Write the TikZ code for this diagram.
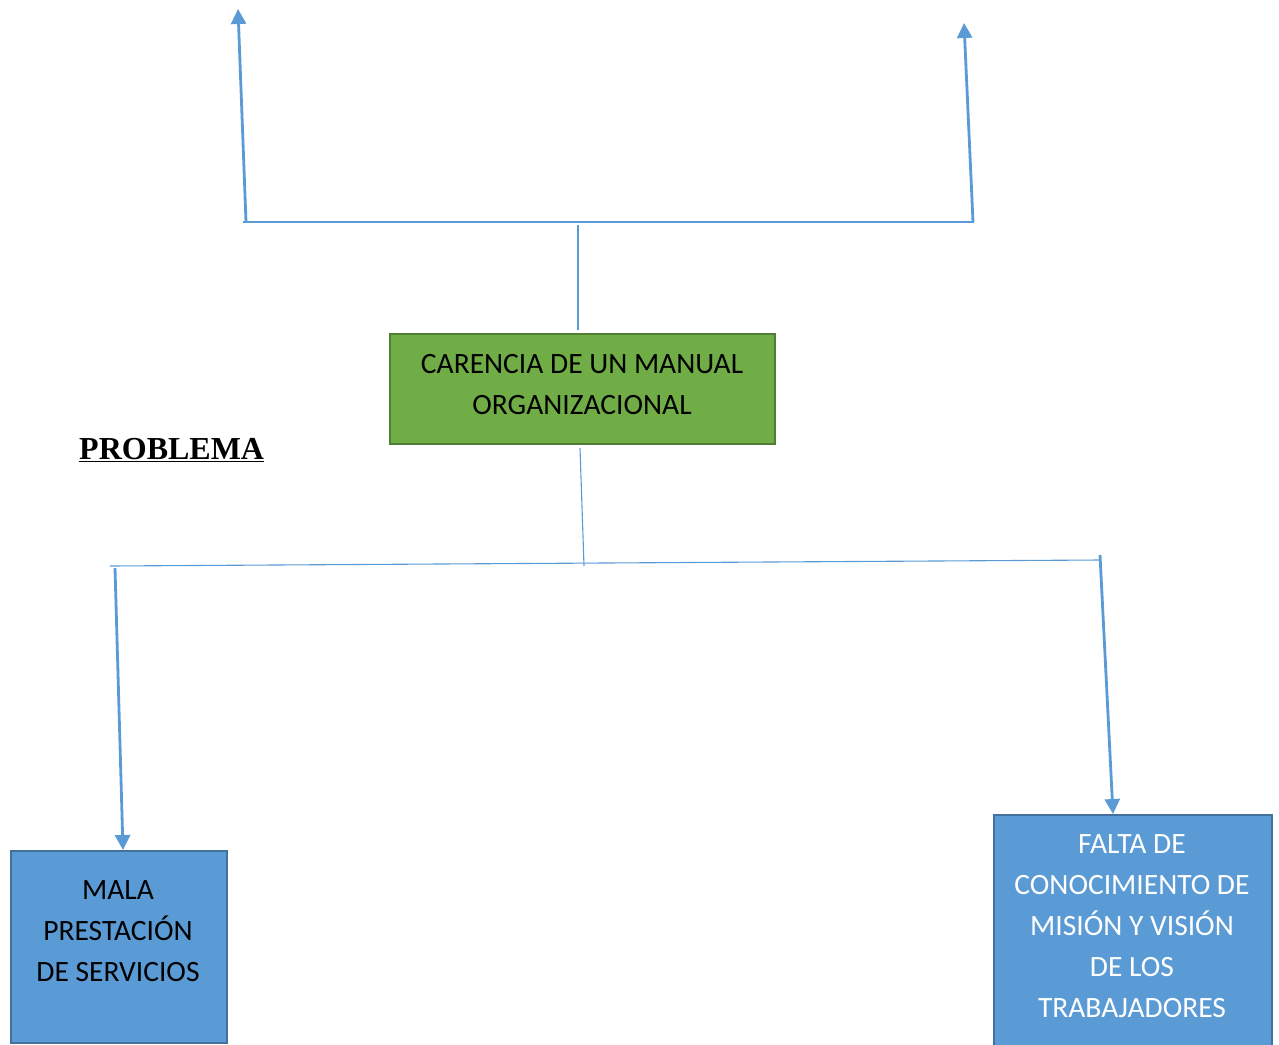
\documentclass[tikz,border=0pt]{standalone}
\usepackage{fontspec}
\setmainfont{Carlito}
\newfontfamily\timesfont{Liberation Serif}
\usetikzlibrary{arrows.meta}
\definecolor{lineblue}{HTML}{5B9BD5}
\definecolor{boxblue}{HTML}{5B9BD5}
\definecolor{boxblueedge}{HTML}{41719C}
\definecolor{boxgreen}{HTML}{70AD47}
\definecolor{boxgreenedge}{HTML}{507E32}
\tikzset{
  thinline/.style={draw=lineblue, line width=1.1pt},
  arrline/.style={draw=lineblue, line width=2.8pt, -{Triangle[width=15pt,length=15pt]}},
  greenbox/.style={draw=boxgreenedge, fill=boxgreen, line width=2.2pt, anchor=north west, inner sep=0pt},
  bluebox/.style={draw=boxblueedge, fill=boxblue, line width=2.2pt, anchor=north west, inner sep=0pt},
  boxtext/.style={align=center, inner sep=0pt, font=\fontsize{29.5}{41}\selectfont},
}
\begin{document}
\begin{tikzpicture}[x=1pt,y=-1pt]
\useasboundingbox (0,0) rectangle (1279,1044);
\clip (0,0) rectangle (1279,1044);
% boxes
\node[greenbox, minimum width=385pt, minimum height=110pt] (main) at (389,333) {};
\node[boxtext, text=black] (maintext) at (582,385) {CARENCIA DE UN MANUAL\\ORGANIZACIONAL};
\node[bluebox, minimum width=216pt, minimum height=192pt] (left) at (10,850) {};
\node[boxtext, text=black] (lefttext) at (118,931) {MALA\\PRESTACIÓN\\DE SERVICIOS};
\node[bluebox, minimum width=278pt, minimum height=260pt] (right) at (993,814) {};
\node[boxtext, text=white] (righttext) at (1132,926) {FALTA DE\\CONOCIMIENTO DE\\MISIÓN Y VISIÓN\\DE LOS\\TRABAJADORES};
% title
\node[anchor=base west, inner sep=0pt, font=\timesfont\bfseries\fontsize{32}{36}\selectfont] (title) at (79,459) {\underline{PROBLEMA}};
% upper connectors
\coordinate (tl) at (243,222);
\coordinate (tr) at (974,222);
\coordinate (tm) at (578,225);
\coordinate (mtop) at (578,330);
\coordinate (ta) at (246,222);
\coordinate (taTip) at (238,9);
\coordinate (tb) at (973,222);
\coordinate (tbTip) at (964,23);
\draw[thinline] (tl) -- (tr);
\draw[thinline] (tm) -- (mtop);
\draw[arrline] (ta) -- (taTip);
\draw[arrline] (tb) -- (tbTip);
% lower connectors
\coordinate (mbot) at (580,448);
\coordinate (bm) at (584,566);
\coordinate (bl) at (110,566);
\coordinate (br) at (1100,560);
\draw[thinline] (mbot) -- (bm);
\draw[thinline] (bl) -- (br);
\coordinate (la) at (115,568);
\coordinate (laTip) at (123,850);
\coordinate (ra) at (1100,555);
\coordinate (raTip) at (1113,814);
\draw[arrline] (la) -- (laTip);
\draw[arrline] (ra) -- (raTip);
\end{tikzpicture}
\end{document}
